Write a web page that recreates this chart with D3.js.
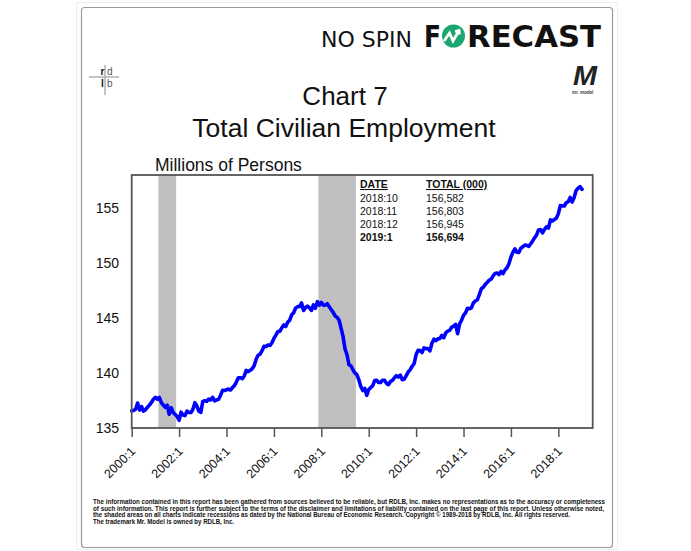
<!DOCTYPE html>
<html><head><meta charset="utf-8">
<script src="https://cdn.jsdelivr.net/npm/d3@7"></script>
<style>
html,body{margin:0;padding:0;background:#fff;}
svg{display:block;font-family:"Liberation Sans",Arial,sans-serif;}
</style></head>
<body>
<svg id="chart" width="691" height="551"></svg>
<script>
// ---------- data ----------
const startYear = 2000;
const employment = [
136.559,136.598,136.701,137.270,136.630,136.940,136.531,136.662,136.893,137.088,137.322,137.614,
137.778,137.612,137.783,137.299,137.092,136.873,137.071,136.241,136.846,136.392,136.238,136.047,
135.701,136.438,136.177,136.126,136.539,136.415,136.413,136.705,137.302,137.008,136.521,136.426,
137.417,137.482,137.434,137.633,137.544,137.790,137.474,137.549,137.609,137.984,138.424,138.411,
138.472,138.542,138.453,138.680,138.852,139.174,139.556,139.573,139.487,139.732,140.231,140.125,
140.245,140.385,140.654,141.254,141.609,141.714,142.026,142.434,142.401,142.548,142.499,142.752,
143.142,143.444,143.765,143.794,144.108,144.370,144.229,144.631,144.797,145.292,145.477,145.914,
146.032,146.043,146.368,145.686,145.952,146.079,145.926,145.685,146.193,145.885,146.483,146.173,
146.421,146.165,146.173,146.306,146.023,145.768,145.515,145.187,145.059,144.792,144.078,143.328,
142.187,141.660,140.754,140.654,140.294,140.003,139.847,139.386,138.775,138.401,138.607,137.968,
138.500,138.665,138.836,139.306,139.340,139.137,139.139,139.338,139.344,139.072,138.937,139.220,
139.330,139.551,139.764,139.628,139.808,139.385,139.450,139.754,140.107,140.298,140.614,140.852,
141.677,142.065,142.034,141.865,142.287,142.214,142.218,142.011,142.702,143.076,142.936,143.102,
143.142,143.412,143.209,143.644,143.808,143.872,144.163,144.258,144.411,143.573,144.463,144.796,
145.233,145.458,145.886,145.838,145.926,146.376,146.554,146.656,147.120,147.662,147.790,148.054,
148.231,148.448,148.530,148.830,149.049,149.093,148.946,149.244,149.035,149.366,149.562,149.929,
150.544,150.968,151.284,150.975,150.955,151.337,151.474,151.628,151.614,151.511,151.748,152.009,
152.290,152.556,153.007,153.035,152.733,153.052,153.286,153.173,153.917,153.824,153.950,154.077,
154.480,155.215,155.178,155.181,155.474,155.576,155.965,155.542,155.962,156.582,156.803,156.945,
156.694
];
const recessionStart = ["2001:3", "2007:12"];
const recessionEnd   = ["2001:11", "2009:6"];
const xTickLabels = ["2000:1","2002:1","2004:1","2006:1","2008:1","2010:1","2012:1","2014:1","2016:1","2018:1"];
const yTicks = [135,140,145,150,155];
const tableDates  = ["2018:10","2018:11","2018:12","2019:1"];
const tableValues = ["156,582","156,803","156,945","156,694"];
const footerLines = [
"The information contained in this report has been gathered from sources believed to be reliable, but RDLB, Inc. makes no representations as to the accuracy or completeness",
"of such information. This report is further subject to the terms of the disclaimer and limitations of liability contained on the last page of this report.  Unless otherwise noted,",
"the shaded areas on all charts indicate recessions as dated by the National Bureau of Economic Research. Copyright \u00a9 1989-2018 by RDLB, Inc.  All rights reserved.",
"The trademark Mr. Model is owned by RDLB, Inc."
];

// ---------- helpers ----------
const idx = s => { const [y,m] = s.split(":").map(Number); return (y-startYear)*12 + (m-1); };

const svg = d3.select("#chart");

// page border
svg.append("rect").attr("x",76.5).attr("y",2.5).attr("width",541).attr("height",547)
  .attr("fill","none").attr("stroke","#ededed").attr("stroke-width",1);
svg.append("rect").attr("x",81.5).attr("y",7.5).attr("width",531).attr("height",540).attr("rx",3)
  .attr("fill","#fff").attr("stroke","#9a9a9a").attr("stroke-width",1.2);

// ---------- header logo ----------
svg.append("text").attr("x",321).attr("y",47).attr("font-size",22).attr("fill","#111")
  .attr("textLength",91).attr("lengthAdjust","spacingAndGlyphs")
  .style("font-family","'DejaVu Sans',sans-serif").attr("font-weight",400).text("NO SPIN");
svg.append("text").attr("x",424).attr("y",47).attr("font-size",30).attr("font-weight",900)
  .attr("fill","#111").attr("textLength",17).attr("lengthAdjust","spacingAndGlyphs")
  .style("font-family","'DejaVu Sans',sans-serif").text("F");
svg.append("circle").attr("cx",453.5).attr("cy",36).attr("r",11.5).attr("fill","#1ba66f");
svg.append("path").attr("d","M444,41 L449.5,33 L453,41 L458.5,31.5 M455,31.5 L459,30.5 L459.5,34.5")
  .attr("fill","none").attr("stroke","#fff").attr("stroke-width",2.8).attr("stroke-linejoin","miter");
svg.append("text").attr("x",467).attr("y",47).attr("font-size",30).attr("font-weight",900)
  .attr("fill","#111").attr("textLength",134).attr("lengthAdjust","spacingAndGlyphs")
  .style("font-family","'DejaVu Sans',sans-serif").text("RECAST");

// Mr. Model logo
svg.append("text").attr("x",573).attr("y",85).attr("font-size",27).attr("font-weight",900)
  .attr("font-style","italic").attr("fill","#222").attr("textLength",24).attr("lengthAdjust","spacingAndGlyphs")
  .text("M");
svg.append("text").attr("x",572).attr("y",93.5).attr("font-size",4.5).attr("font-style","italic")
  .attr("font-weight",700).attr("fill","#444").text("mr. model");

// rdlb logo
svg.append("line").attr("x1",89).attr("x2",119).attr("y1",77).attr("y2",77).attr("stroke","#b0b0b0").attr("stroke-width",1.5);
svg.append("line").attr("x1",105).attr("x2",105).attr("y1",65).attr("y2",95).attr("stroke","#b0b0b0").attr("stroke-width",1.5);
[["r",100.5,75,"#111",700],["d",107,75,"#555",400],["l",101,87,"#111",700],["b",107,87,"#555",400]].forEach(d=>{
  svg.append("text").attr("x",d[1]).attr("y",d[2]).attr("font-size",10).attr("fill",d[3]).attr("font-weight",d[4]).text(d[0]);
});

// ---------- titles ----------
svg.append("text").attr("x",345).attr("y",105).attr("text-anchor","middle").attr("font-size",26).attr("fill","#111").text("Chart 7");
svg.append("text").attr("x",344).attr("y",137).attr("text-anchor","middle").attr("font-size",26.5).attr("fill","#111").text("Total Civilian Employment");
svg.append("text").attr("x",155).attr("y",171).attr("font-size",17.5).attr("fill","#111").text("Millions of Persons");

// ---------- scales ----------
const x = d3.scaleLinear().domain([0, 233.4]).range([131.7, 592.7]);
const y = d3.scaleLinear().domain([135, 158]).range([428, 175]);

// recessions
svg.append("g").selectAll("rect").data(recessionStart.map((s,i)=>[idx(s),idx(recessionEnd[i])]))
  .join("rect")
  .attr("x", d => x(d[0]-0.5)).attr("width", d => x(d[1]+0.5)-x(d[0]-0.5))
  .attr("y", y.range()[1]).attr("height", y.range()[0]-y.range()[1])
  .attr("fill","#c0c0c0");

// line
const line = d3.line().x((d,i)=>x(i)).y(d=>y(d));
svg.append("path").datum(employment).attr("d",line)
  .attr("fill","none").attr("stroke","#0000ff").attr("stroke-width",3.6)
  .attr("stroke-linejoin","round").attr("stroke-linecap","round");

// frame
svg.append("rect").attr("x",x.range()[0]).attr("y",y.range()[1])
  .attr("width",x.range()[1]-x.range()[0]).attr("height",y.range()[0]-y.range()[1])
  .attr("fill","none").attr("stroke","#555").attr("stroke-width",1.8);

// x axis
const xAxis = d3.axisBottom(x).tickValues(xTickLabels.map(idx)).tickSize(9).tickFormat((d,i)=>xTickLabels[i]);
const gx = svg.append("g").attr("transform",`translate(0,${y.range()[0]})`).call(xAxis);
gx.select(".domain").remove();
gx.selectAll(".tick line").attr("stroke","#555").attr("stroke-width",1.5);
gx.selectAll(".tick text")
  .attr("font-size",12.5).attr("fill","#111").style("font-family","'Liberation Sans',Arial,sans-serif")
  .attr("text-anchor","end").attr("y",0).attr("dy",0)
  .attr("transform","translate(4,24) rotate(-45)");

// y axis (labels only)
const yAxis = d3.axisLeft(y).tickValues(yTicks).tickSize(0).tickPadding(0);
const gy = svg.append("g").attr("transform","translate(119,0)").call(yAxis);
gy.select(".domain").remove();
gy.selectAll(".tick text").attr("font-size",14).attr("fill","#111").style("font-family","'Liberation Sans',Arial,sans-serif");

// ---------- table ----------
const tbl = svg.append("g");
tbl.append("text").attr("x",360).attr("y",188).attr("font-size",10.5).attr("font-weight",700)
  .attr("text-decoration","underline").attr("fill","#111").text("DATE");
tbl.append("text").attr("x",426).attr("y",188).attr("font-size",10.5).attr("font-weight",700)
  .attr("text-decoration","underline").attr("fill","#111").text("TOTAL (000)");
tableDates.forEach((d,i)=>{
  const bold = i === tableDates.length-1 ? 700 : 400;
  tbl.append("text").attr("x",360).attr("y",201.5+i*13.3).attr("font-size",10.5).attr("font-weight",bold).attr("fill","#111").text(d);
  tbl.append("text").attr("x",426).attr("y",201.5+i*13.3).attr("font-size",10.5).attr("font-weight",bold).attr("fill","#111").text(tableValues[i]);
});

// ---------- footer ----------
const fLens = [512, 511, 477, 141];
footerLines.forEach((t,i)=>{
  svg.append("text").attr("x",93).attr("y",504+i*6.6).attr("font-size",6.3).attr("fill","#111")
    .attr("font-weight",700)
    .style("font-family","'Liberation Sans Narrow','Liberation Sans',sans-serif")
    .attr("textLength",fLens[i]).attr("lengthAdjust","spacingAndGlyphs").text(t);
});
</script>
</body></html>
